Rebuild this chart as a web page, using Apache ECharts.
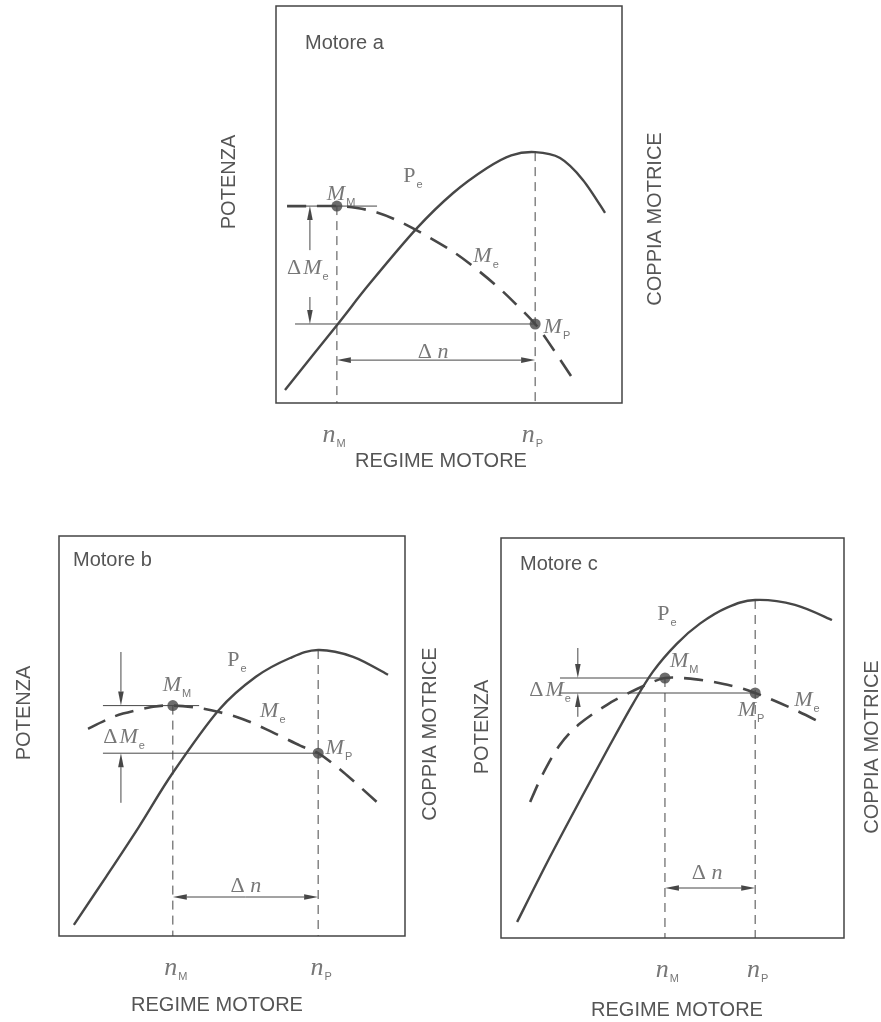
<!DOCTYPE html>
<html><head><meta charset="utf-8">
<script src="https://cdn.jsdelivr.net/npm/echarts@6/dist/echarts.min.js"></script>
<style>html,body{margin:0;padding:0;background:#fff}#c{width:881px;height:1022px}</style>
</head><body><div id="c"></div>
<script>
// ---------- DATA (normalised units: regime 0–100, value 0–100) ----------
// Motore a
const peA = [[2.6,3.3],[17.6,19.6],[27.2,30.2],[40.8,44.1],[51.2,52.9],[61.0,59.2],[68.0,62.4],[74.9,63.2],[82.1,61.7],[88.7,56.2],[95.1,47.9]];
const meA = [[3.2,49.6],[10.0,49.6],[17.6,49.6],[23.4,49.1],[29.2,48.0],[35.0,46.0],[42.5,42.6],[50.3,38.6],[56.1,35.0],[63.9,29.4],[69.7,24.6],[74.9,19.9],[78.3,15.9],[86.4,5.3]];
const regimeA = [17.6, 74.9];   // n_M, n_P
const coppiaA = [49.6, 19.9];   // M_M, M_P
// Motore b
const peB = [[4.3,2.8],[13.6,14.8],[23.1,27.3],[32.9,40.8],[46.2,56.5],[56.9,64.8],[66.8,69.5],[74.9,71.5],[85.0,69.8],[95.1,65.3]];
const meB = [[8.4,51.8],[13.6,54.0],[18.5,55.6],[27.2,57.3],[32.9,57.6],[39.6,57.1],[46.2,56.0],[53.2,54.2],[60.1,51.6],[69.7,47.6],[74.9,45.7],[82.1,41.0],[93.4,32.3]];
const regimeB = [32.9, 74.9];
const coppiaB = [57.6, 45.7];
// Motore c
const peC = [[4.7,4.0],[14.3,20.3],[23.9,35.8],[31.8,48.3],[38.5,58.6],[44.3,66.6],[51.3,73.6],[58.0,78.6],[65.9,82.6],[74.1,84.5],[85.7,83.3],[96.5,79.5]];
const meC = [[8.5,34.0],[12.2,41.0],[17.2,48.3],[23.0,53.6],[30.9,58.3],[36.7,61.0],[42.0,63.2],[47.8,65.0],[54.2,64.9],[61.5,64.1],[66.0,63.3],[70.6,62.3],[74.1,61.25],[78.4,59.8],[86.3,56.8],[94.5,53.3]];
const regimeC = [47.8, 74.1];
const coppiaC = [65.0, 61.25];
// texts
const panelTitles = ['Motore a', 'Motore b', 'Motore c'];
const xName = 'REGIME MOTORE';
const yNameLeft = 'POTENZA';
const yNameRight = 'COPPIA MOTRICE';

// ---------- STYLE ----------
const INK = '#474747', TXT = '#555';
const rich = {
  i: {fontFamily:'Liberation Serif', fontStyle:'italic', fontSize:22, color:TXT, lineHeight:24},
  n: {fontFamily:'Liberation Serif', fontStyle:'italic', fontSize:26, color:TXT, lineHeight:24},
  r: {fontFamily:'Liberation Serif', fontSize:22, color:TXT, lineHeight:24},
  d: {fontFamily:'Liberation Serif', fontSize:22, color:TXT, lineHeight:24, padding:[0,2,0,0]},
  s: {fontFamily:'Liberation Sans', fontSize:11, color:TXT, lineHeight:12, padding:[18,0,0,1]}
};

const grids = [
  {left:276, top:6, width:346, height:397},
  {left:59, top:536, width:346, height:400},
  {left:501, top:538, width:343, height:400}
];

function arrowRender(params, api) {
  const p1 = api.coord([api.value(0), api.value(1)]);
  const p2 = api.coord([api.value(2), api.value(3)]);
  const dx = p2[0]-p1[0], dy = p2[1]-p1[1];
  const len = Math.hypot(dx, dy) || 1;
  const ux = dx/len, uy = dy/len, nx = -uy, ny = ux;
  const hl = 14, hw = 2.8;
  const b = [p2[0]-ux*hl, p2[1]-uy*hl];
  return {type:'group', children:[
    {type:'line', shape:{x1:p1[0], y1:p1[1], x2:b[0], y2:b[1]}, style:{stroke:INK, lineWidth:1}},
    {type:'polygon', shape:{points:[[p2[0],p2[1]],[b[0]+nx*hw,b[1]+ny*hw],[b[0]-nx*hw,b[1]-ny*hw]]}, style:{fill:INK}}
  ]};
}

// smooth curve through the data points (Catmull-Rom), mapped through the axes
function curveSeries(g, pts, lineStyle) {
  return {type:'custom', xAxisIndex:g, yAxisIndex:g, silent:true, z:3, clip:false,
    encode:{x:0, y:1}, data:pts,
    renderItem: function (params, api) {
      if (params.dataIndex !== 0) return null;
      const P = [];
      for (let k = 0; k < pts.length; k++) P.push(api.coord(pts[k]));
      let d = 'M' + P[0][0].toFixed(2) + ' ' + P[0][1].toFixed(2);
      for (let k = 0; k < P.length - 1; k++) {
        const p0 = P[Math.max(k-1,0)], p1 = P[k], p2 = P[k+1], p3 = P[Math.min(k+2,P.length-1)];
        const c1 = [p1[0] + (p2[0]-p0[0])/6, p1[1] + (p2[1]-p0[1])/6];
        const c2 = [p2[0] - (p3[0]-p1[0])/6, p2[1] - (p3[1]-p1[1])/6];
        d += ' C' + c1[0].toFixed(2)+' '+c1[1].toFixed(2)+' '+c2[0].toFixed(2)+' '+c2[1].toFixed(2)+' '+p2[0].toFixed(2)+' '+p2[1].toFixed(2);
      }
      return {type:'path', shape:{pathData:d}, style:Object.assign({fill:null, stroke:INK}, lineStyle)};
    }};
}

function buildPanel(g, pe, me, regime, coppia, lay) {
  const [nM, nP] = regime, [mM, mP] = coppia;
  const peAtP = pe.find(p => p[0] === nP)[1];
  const ax = {xAxisIndex:g, yAxisIndex:g};
  const S = [];
  // curves
  S.push(curveSeries(g, pe, {lineWidth:2.4}));
  S.push(curveSeries(g, me, {lineWidth:2.6, lineDash:[19,11]}));
  // vertical dashed guides
  S.push(Object.assign({type:'line', data:[[nM, mM],[nM, 0]], symbol:'none', silent:true,
    lineStyle:{color:INK, width:1, type:[9,6]}}, ax));
  S.push(Object.assign({type:'line', data:[[nP, peAtP],[nP, 0]], symbol:'none', silent:true,
    lineStyle:{color:INK, width:1, type:[9,6]}}, ax));
  // horizontal reference lines
  S.push(Object.assign({type:'line', data:[[lay.mmLine[0], mM],[lay.mmLine[1], mM]], symbol:'none', silent:true,
    lineStyle:{color:INK, width:1}}, ax));
  S.push(Object.assign({type:'line', data:[[lay.mpStart, mP],[nP, mP]], symbol:'none', silent:true,
    lineStyle:{color:INK, width:1}}, ax));
  // arrows (tail -> tip)
  const mid = (nM + nP) / 2;
  S.push(Object.assign({type:'custom', renderItem:arrowRender, silent:true, clip:false, z:4,
    encode:{x:[0,2], y:[1,3]},
    data:[
      [lay.arrowX, lay.tails[0], lay.arrowX, mM],
      [lay.arrowX, lay.tails[1], lay.arrowX, mP],
      [mid, lay.dnY, nM, lay.dnY],
      [mid, lay.dnY, nP, lay.dnY]
    ]}, ax));
  // points M_M, M_P
  S.push(Object.assign({type:'scatter', data:[[nM, mM],[nP, mP]], symbolSize:11, silent:true, z:5,
    itemStyle:{color:INK}}, ax));
  // labels
  const L = lay.labels;
  const lab = (pos, f) => ({value:pos, label:{show:true, formatter:f, rich:rich, position:'inside'}});
  S.push(Object.assign({type:'scatter', symbolSize:0, silent:true, clip:false, z:6,
    data:[
      lab(L.pe, '{r|P}{s|e}'),
      lab(L.mm, '{i|M}{s|M}'),
      lab(L.me, '{i|M}{s|e}'),
      lab(L.mp, '{i|M}{s|P}'),
      lab(L.dme, '{d|Δ}{i|M}{s|e}'),
      lab(L.dn, '{r|Δ }{i|n}'),
      lab([nM + L.nOff, -8], '{n|n}{s|M}'),
      lab([nP + L.nOff, -8], '{n|n}{s|P}')
    ]}, ax));
  return S;
}

const layouts = [
  {mmLine:[3.2, 29.2], mpStart:5.5, arrowX:9.8, tails:[38.5, 26.7], dnY:10.8, labels:{
    pe:[39.6,57.2], mm:[18.8,52.6], me:[60.7,37.0], mp:[81.2,19.1], dme:[9.2,34.0], dn:[45.4,12.8], nOff:-0.8}},
  {mmLine:[12.7, 40.5], mpStart:12.7, arrowX:17.9, tails:[71.0, 33.3], dnY:9.75, labels:{
    pe:[51.4,69.0], mm:[34.1,62.8], me:[61.8,56.3], mp:[80.9,47.0], dme:[18.8,49.8], dn:[54.0,12.5], nOff:0.9}},
  {mmLine:[17.2, 47.8], mpStart:17.2, arrowX:22.4, tails:[72.5, 55.3], dnY:12.5, labels:{
    pe:[48.4,81.0], mm:[53.4,69.3], me:[89.2,59.5], mp:[72.9,57.0], dme:[14.3,62.0], dn:[60.1,16.3], nOff:0.7}}
];

const series = [].concat(
  buildPanel(0, peA, meA, regimeA, coppiaA, layouts[0]),
  buildPanel(1, peB, meB, regimeB, coppiaB, layouts[1]),
  buildPanel(2, peC, meC, regimeC, coppiaC, layouts[2])
);

const font = '20px "Liberation Sans", Arial, sans-serif';
function txt(x, y, s) {
  return {type:'text', x:x, y:y, silent:true,
    style:{text:s, font:font, fill:TXT, textAlign:'center', textVerticalAlign:'middle'}};
}
function vtxt(x, y, s) {
  return {type:'text', x:x, y:y, rotation:Math.PI/2, silent:true,
    style:{text:s, font:font, fill:TXT, textAlign:'center', textVerticalAlign:'middle'}};
}
function ttl(x, y, s) {
  return {type:'text', x:x, y:y, silent:true,
    style:{text:s, font:font, fill:TXT, textAlign:'left', textVerticalAlign:'middle'}};
}
const graphic = [
  ttl(305, 43, panelTitles[0]), ttl(73, 560, panelTitles[1]), ttl(520, 564, panelTitles[2]),
  txt(441, 461, xName), txt(217, 1005, xName), txt(677, 1010, xName),
  vtxt(229, 182, yNameLeft), vtxt(24, 713, yNameLeft), vtxt(482, 727, yNameLeft),
  vtxt(655, 219, yNameRight), vtxt(430, 734, yNameRight), vtxt(872, 747, yNameRight)
];

const chart = echarts.init(document.getElementById('c'), null, {renderer:'canvas'});
chart.setOption({
  animation:false,
  backgroundColor:'#fff',
  grid: grids.map(g => Object.assign({show:true, borderColor:'#444', borderWidth:1.5, backgroundColor:'transparent', containLabel:false}, g)),
  xAxis: grids.map((g,i) => ({type:'value', gridIndex:i, min:0, max:100, show:false})),
  yAxis: grids.map((g,i) => ({type:'value', gridIndex:i, min:0, max:100, show:false})),
  series: series,
  graphic: graphic
});
</script></body></html>
